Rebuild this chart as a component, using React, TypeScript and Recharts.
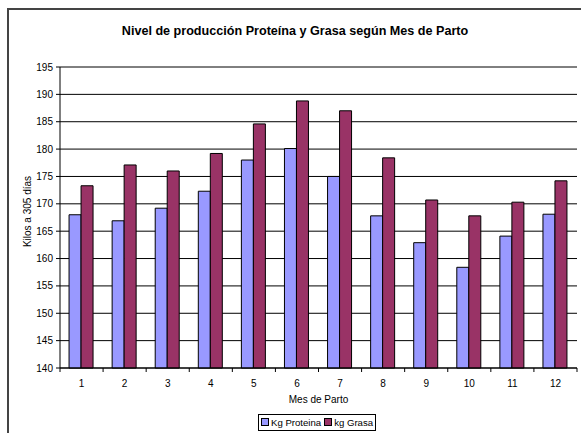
import { Bar, BarChart, CartesianGrid, Label, Legend, XAxis, YAxis } from 'recharts';

const meses = ['1', '2', '3', '4', '5', '6', '7', '8', '9', '10', '11', '12'];
const kgProteina = [168, 166.9, 169.2, 172.3, 178, 180.1, 175, 167.8, 162.9, 158.4, 164.1, 168.1];
const kgGrasa = [173.3, 177.1, 176, 179.2, 184.6, 188.8, 187, 178.4, 170.7, 167.8, 170.3, 174.2];
const yTicks = [140, 145, 150, 155, 160, 165, 170, 175, 180, 185, 190, 195];

const seriesNames = { proteina: 'Kg Proteina', grasa: 'kg Grasa' };
const colors = { proteina: '#9999FF', grasa: '#993366' };

const data = meses.map((mes, i) => ({
  mes,
  proteina: kgProteina[i],
  grasa: kgGrasa[i],
}));

const font = '"Liberation Sans", Arial, sans-serif';

// ticks sit between categories (Excel style), label in the middle
function MonthTick(props: any) {
  const { x, y, payload, index, visibleTicksCount } = props;
  const half = payload?.offset ?? 21.5;
  const last = index === visibleTicksCount - 1;
  return (
    <g>
      <line x1={x - half} x2={x - half} y1={y} y2={y + 4} stroke="#000" />
      {last && <line x1={x + half} x2={x + half} y1={y} y2={y + 4} stroke="#000" />}
      <text x={x} y={y + 19} textAnchor="middle" fontSize={10} fill="#000" fontFamily={font}>
        {payload.value}
      </text>
    </g>
  );
}

function LegendBox() {
  const items = [
    { name: seriesNames.proteina, color: colors.proteina },
    { name: seriesNames.grasa, color: colors.grasa },
  ];
  return (
    <div
      style={{
        display: 'inline-flex',
        alignItems: 'center',
        border: '1px solid #000',
        padding: '1px 2px',
        fontFamily: font,
        fontSize: 9.6,
        background: '#fff',
        lineHeight: '13px',
      }}
    >
      {items.map((it, i) => (
        <span key={it.name} style={{ display: 'inline-flex', alignItems: 'center', marginLeft: i ? 3 : 0 }}>
          <span
            style={{ width: 6, height: 6, background: it.color, border: '1px solid #000', marginRight: 2, display: 'inline-block' }}
          />
          {it.name}
        </span>
      ))}
    </div>
  );
}

export default function App() {
  return (
    <div style={{ position: 'absolute', left: 0, top: 0, width: 581, height: 433, overflow: 'hidden', background: '#fff' }}>
      <div
        style={{
          position: 'absolute',
          left: 7,
          top: 8,
          width: 620,
          height: 500,
          borderTop: '2px solid #444',
          borderLeft: '2px solid #444',
          boxSizing: 'border-box',
        }}
      />
      <div
        style={{
          position: 'absolute',
          left: 8,
          width: 574,
          top: 24,
          textAlign: 'center',
          fontFamily: font,
          fontWeight: 'bold',
          fontSize: 12.6,
        }}
      >
        Nivel de producción Proteína y Grasa según Mes de Parto
      </div>
      <BarChart
        width={581}
        height={433}
        data={data}
        margin={{ top: 67, right: 4, bottom: 0, left: 0 }}
        barCategoryGap="21%"
        barGap={0}
        style={{ position: 'absolute', left: 0, top: 0 }}
      >
        <CartesianGrid vertical={false} stroke="#000" strokeWidth={1} />
        <XAxis
          dataKey="mes"
          height={65}
          stroke="#000"
          tickLine={false}
          tickSize={0}
          tickMargin={0}
          tick={<MonthTick />}
          interval={0}
        >
          <Label value="Mes de Parto" position="insideTop" offset={28} fill="#000" fontSize={10} fontFamily={font} />
        </XAxis>
        <YAxis
          width={60}
          domain={[140, 195]}
          ticks={yTicks}
          interval={0}
          stroke="#000"
          tickSize={4}
          tickMargin={3}
          tick={{ fill: '#000', fontSize: 10, fontFamily: font }}
        >
          <Label
            content={({ viewBox }: any) => {
              const cx = viewBox.x + 27;
              const cy = viewBox.y + viewBox.height / 2 - 6;
              return (
                <text
                  x={cx}
                  y={cy}
                  transform={`rotate(-90, ${cx}, ${cy})`}
                  textAnchor="middle"
                  dominantBaseline="central"
                  fontSize={10}
                  fontFamily={font}
                  fill="#000"
                >
                  Kilos a 305 días
                </text>
              );
            }}
          />
        </YAxis>
        <YAxis yAxisId="frame" orientation="right" width={0} tick={false} tickLine={false} stroke="#808080" />
        <Legend
          verticalAlign="middle"
          layout="horizontal"
          content={<LegendBox />}
          wrapperStyle={{ position: 'absolute', left: 258, top: 412, width: 'auto' }}
        />
        <Bar dataKey="proteina" name={seriesNames.proteina} fill={colors.proteina} stroke="#000" strokeWidth={1} isAnimationActive={false} />
        <Bar dataKey="grasa" name={seriesNames.grasa} fill={colors.grasa} stroke="#000" strokeWidth={1} isAnimationActive={false} />
      </BarChart>
    </div>
  );
}
